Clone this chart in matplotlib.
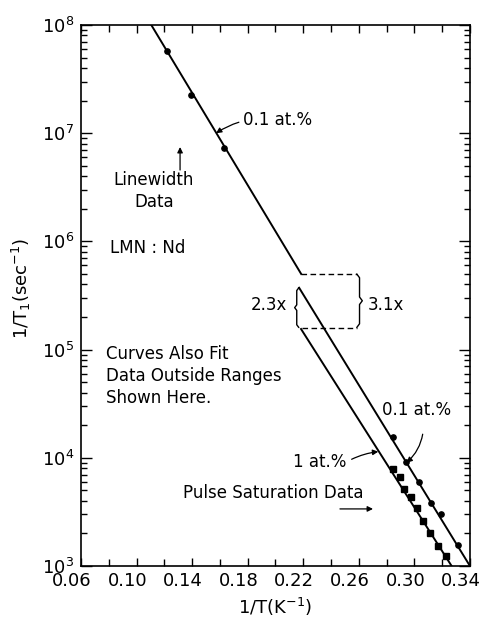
import numpy as np
import matplotlib
matplotlib.use('Agg')
import matplotlib.pyplot as plt
import matplotlib.transforms as mtransforms
from matplotlib.ticker import FixedLocator, LogLocator, NullFormatter


# data
# linewidth data, 0.1 at.%
lw_x = [0.1217, 0.1390, 0.1630]
lw_y = [5.75e7, 2.27e7, 7.3e6]

# pulse saturation data, 0.1 at.%
ps01_x = [0.2848, 0.2937, 0.3035, 0.3119, 0.3189, 0.3311]
ps01_y = [1.57e4, 9.2e3, 6.0e3, 3.82e3, 3.0e3, 1.58e3]

# pulse saturation data, 1 at.%
ps1_x = [0.2848, 0.2896, 0.2925, 0.2975, 0.3016, 0.3060, 0.3112, 0.3172, 0.3227]
ps1_y = [7.8e3, 6.65e3, 5.2e3, 4.3e3, 3.43e3, 2.63e3, 2.01e3, 1.53e3, 1.23e3]

# fitted curves (straight on this plot)
fit_lw_x = [0.1106, 0.2185]
fit_lw_y = [1.0e8, 5.0e5]
fit01_x = [0.2170, 0.3400]
fit01_y = [3.73e5, 1.0e3]
fit1_x = [0.2184, 0.3268]
fit1_y = [1.55e5, 1.0e3]

# ratio bracket levels at 1/T = 0.22
brk_top = 5.0e5
brk_mid = 3.73e5
brk_bot = 1.6e5

xticks = [0.06, 0.10, 0.14, 0.18, 0.22, 0.26, 0.30, 0.34]

plt.rcParams['font.family'] = ['DejaVu Sans']
plt.rcParams['mathtext.default'] = 'regular'

fig = plt.figure(figsize=(4.84, 6.19), dpi=100)
ax = fig.add_axes([0.1674, 0.0856, 0.8036, 0.874])

ax.plot(fit_lw_x, fit_lw_y, color='black', lw=1.4)
ax.plot(fit01_x, fit01_y, color='black', lw=1.4)
ax.plot(fit1_x, fit1_y, color='black', lw=1.4)

ax.plot(lw_x, lw_y, 'o', color='black', ms=3.8)
ax.plot(ps01_x, ps01_y, 'o', color='black', ms=3.8)
ax.plot(ps1_x, ps1_y, 's', color='black', ms=4.6)

ax.set_yscale('log')
ax.set_xlim(0.06, 0.34)
ax.set_ylim(1e3, 1e8)

# dashed ratio bracket
x_left, x_right = 0.2185, 0.2585
ax.plot([x_left, x_right], [brk_top, brk_top], color='black', lw=1.0, ls=(0, (4, 2.5)))
ax.plot([x_left + 0.0005, x_right], [brk_bot, brk_bot], color='black', lw=1.0, ls=(0, (4, 2.5)))


def brace(x0, y1, y2, d, side):
    # curly bracket between y1 (top) and y2 (bottom) drawn in log space
    ym = np.sqrt(y1 * y2)
    f = (y1 / y2) ** 0.07
    xs = [x0 - side * d, x0, x0, x0 + side * d, x0, x0, x0 - side * d]
    ys = [y1, y1 / f, ym * f, ym, ym / f, y2 * f, y2]
    ax.plot(xs, ys, color='black', lw=1.0, solid_capstyle='round')


brace(0.2605, brk_top, brk_bot, 0.002, 1)
brace(0.2153, brk_mid, brk_bot, 0.0015, -1)

fs = 12
ax.text(0.2083, 2.58e5, '2.3x', fontsize=fs, ha='right', va='center')
ax.text(0.2666, 2.58e5, '3.1x', fontsize=fs, ha='left', va='center')

ax.annotate('0.1 at.%', xy=(0.1572, 1.0e7), xytext=(0.1766, 1.32e7), fontsize=fs,
            ha='left', va='center',
            arrowprops=dict(arrowstyle='-|>', color='black', lw=0.9, mutation_scale=8,
                            connectionstyle='arc3,rad=0.2', shrinkA=1, shrinkB=0))

ax.text(0.1125, 2.92e6, 'Linewidth\nData', fontsize=fs, ha='center', va='center',
        linespacing=1.25)
ax.annotate('', xy=(0.1313, 7.45e6), xytext=(0.1313, 4.57e6),
            arrowprops=dict(arrowstyle='-|>', color='black', lw=0.9, mutation_scale=8,
                            shrinkA=0, shrinkB=0))

ax.text(0.0809, 8.7e5, 'LMN : Nd', fontsize=fs, ha='left', va='center')

ax.text(0.078, 5.7e4, 'Curves Also Fit\nData Outside Ranges\nShown Here.', fontsize=fs,
        ha='left', va='center', linespacing=1.3)

ax.annotate('0.1 at.%', xy=(0.2944, 9.0e3), xytext=(0.2764, 2.77e4), fontsize=fs,
            ha='left', va='center',
            arrowprops=dict(arrowstyle='-|>', color='black', lw=0.9, mutation_scale=8,
                            connectionstyle='arc3,rad=-0.25', shrinkA=9, shrinkB=0,
                            relpos=(0.6, 0.0)))

ax.annotate('1 at.%', xy=(0.2740, 1.14e4), xytext=(0.2126, 9.15e3), fontsize=fs,
            ha='left', va='center',
            arrowprops=dict(arrowstyle='-|>', color='black', lw=0.9, mutation_scale=8,
                            connectionstyle='arc3,rad=-0.1', shrinkA=2, shrinkB=0,
                            relpos=(1.0, 0.5)))

ax.text(0.1334, 4.73e3, 'Pulse Saturation Data', fontsize=fs, ha='left', va='center')
ax.annotate('', xy=(0.2702, 3.37e3), xytext=(0.2464, 3.37e3),
            arrowprops=dict(arrowstyle='-|>', color='black', lw=0.9, mutation_scale=8,
                            shrinkA=0, shrinkB=0))

# axes, ticks
ax.xaxis.set_major_locator(FixedLocator(xticks))
ax.xaxis.set_minor_locator(FixedLocator(np.arange(0.08, 0.34, 0.04)))
ax.set_xticklabels(['%.2f' % t for t in xticks])
ax.yaxis.set_major_locator(LogLocator(base=10, numticks=10))
ax.yaxis.set_minor_locator(LogLocator(base=10, subs=np.arange(2, 10), numticks=10))
ax.yaxis.set_minor_formatter(NullFormatter())

ax.tick_params(which='both', direction='in', top=True, right=True, labelsize=13,
               width=1.0, color='black')
ax.tick_params(axis='x', which='major', length=6, pad=4)
ax.tick_params(axis='x', which='minor', length=5)
ax.tick_params(axis='y', which='major', length=8, pad=5)
ax.tick_params(axis='y', which='minor', length=4.5)

# x tick labels sit a little left of their ticks in the original
shift = mtransforms.ScaledTranslation(-9 / 100, 0, fig.dpi_scale_trans)
for lab in ax.get_xticklabels():
    lab.set_transform(lab.get_transform() + shift)

for s in ax.spines.values():
    s.set_linewidth(1.2)

ax.set_xlabel('1/T(K$^{-1}$)', fontsize=13, va='center')
ax.xaxis.set_label_coords(0.499, -0.076)
ax.set_ylabel('1/T$_1$(sec$^{-1}$)', fontsize=13, va='center')
ax.yaxis.set_label_coords(-0.152, 0.514)

fig.savefig('out.png', dpi=100, facecolor='white')
